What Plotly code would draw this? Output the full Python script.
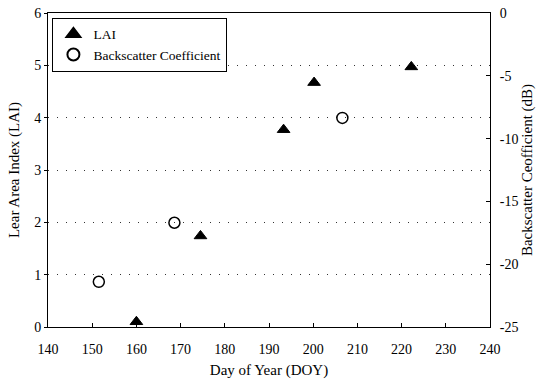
import plotly.graph_objects as go

# Leaf area index measurements (day of year, LAI)
lai_doy = [160, 174.5, 193.3, 200.2, 222.2]
lai_val = [0.1, 1.74, 3.77, 4.67, 4.97]

# Backscatter coefficient measurements (day of year, dB)
bs_doy = [151.5, 168.6, 206.6]
bs_db = [-21.4, -16.7, -8.35]

x_ticks = [140, 150, 160, 170, 180, 190, 200, 210, 220, 230, 240]
lai_ticks = [0, 1, 2, 3, 4, 5, 6]
db_ticks = [0, -5, -10, -15, -20, -25]
db_ticktext = ["0", "-5", "-10", "-15", "-20", "-25"]

serif = "Liberation Serif, Times New Roman, serif"

fig = go.Figure()
fig.add_trace(go.Scatter(
    x=lai_doy, y=lai_val, mode="markers", name="LAI",
    marker=dict(symbol="triangle-up", size=11, color="black",
                line=dict(color="black", width=1)),
    yaxis="y",
))
fig.add_trace(go.Scatter(
    x=bs_doy, y=bs_db, mode="markers", name="Backscatter Coefficient",
    marker=dict(symbol="circle-open", size=11, color="black",
                line=dict(color="black", width=1.5)),
    yaxis="y2",
))

fig.update_layout(
    width=536, height=386,
    margin=dict(l=48, r=46, t=13, b=59),
    paper_bgcolor="white", plot_bgcolor="white",
    font=dict(family=serif, size=14, color="black"),
    showlegend=True,
    legend=dict(
        x=0.01, y=0.985, xanchor="left", yanchor="top",
        bgcolor="white", bordercolor="black", borderwidth=1,
        font=dict(family=serif, size=13.5, color="black"),
        itemsizing="constant", itemwidth=30, tracegroupgap=0,
    ),
    xaxis=dict(
        range=[140, 240], tickvals=x_ticks, automargin=False,
        showline=True, linecolor="black", linewidth=1, mirror=True,
        ticks="inside", ticklen=4, tickcolor="black",
        tickfont=dict(family=serif, size=14),
        showgrid=False, zeroline=False,
        ticklabelstandoff=9,
        title=dict(text="Day of Year (DOY)", font=dict(family=serif, size=15), standoff=8),
    ),
    yaxis=dict(
        range=[0, 6], tickvals=lai_ticks, automargin=False,
        showline=True, linecolor="black", linewidth=1,
        ticks="outside", ticklen=3, tickcolor="black",
        tickfont=dict(family=serif, size=14),
        showgrid=True, gridcolor="#333333", gridwidth=1, griddash="1px,8px",
        zeroline=False,
        title=dict(text="Lear Area Index (LAI)", font=dict(family=serif, size=15), standoff=10),
    ),
    yaxis2=dict(
        range=[-25, 0], tickvals=db_ticks, ticktext=db_ticktext, automargin=False,
        overlaying="y", side="right",
        showline=True, linecolor="black", linewidth=1,
        ticks="inside", ticklen=4, tickcolor="black",
        tickfont=dict(family=serif, size=14),
        ticklabelstandoff=6,
        showgrid=False, zeroline=False,
        title=dict(text="Backscatter Ceofficient (dB)", font=dict(family=serif, size=15), standoff=8),
    ),
)

fig.write_html("out.html")
